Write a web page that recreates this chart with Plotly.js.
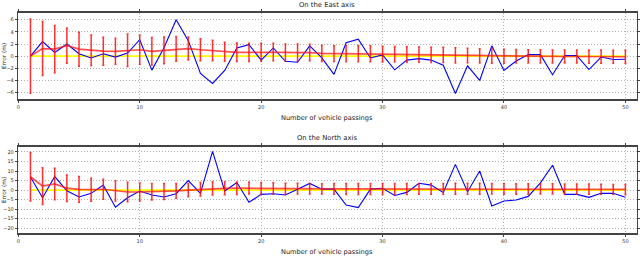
<!DOCTYPE html>
<html>
<head>
<meta charset="utf-8">
<script src="https://cdn.plot.ly/plotly-3.0.1.min.js"></script>
<style>html,body{margin:0;padding:0;background:#fff;}#chart{width:640px;height:256px;}</style>
</head>
<body>
<div id="chart"></div>
<script>
// ---- data ----
const passings = [1,2,3,4,5,6,7,8,9,10,11,12,13,14,15,16,17,18,19,20,21,22,23,24,25,26,27,28,29,30,31,32,33,34,35,36,37,38,39,40,41,42,43,44,45,46,47,48,49,50];
const xTickVals = [0,10,20,30,40,50];
const eastTickVals = [-6,-4,-2,0,2,4,6];
const northTickVals = [-20,-15,-10,-5,0,5,10,15,20];
const referenceError = 0;

const eastError = [0,2.4,0.6,2.0,0.4,-0.3,0.4,-0.15,0.5,2.7,
  -2.3,1.4,6.0,2.55,-2.85,-4.5,-2.35,1.35,1.9,-0.65,
  1.35,-0.85,-1.0,1.7,-0.3,-3.0,2.2,2.8,-0.3,0.2,
  -2.25,-0.65,-0.4,-0.65,-1.5,-6.15,-1.6,-4.0,1.7,-2.35,
  -0.8,0.25,0.25,-3.05,0.1,0.1,-2.2,-0.15,-0.55,-0.5];
const eastMean = [0,1.25,1.15,1.75,1.15,0.96,0.82,0.8,0.98,1.05,
  0.8,0.95,1.2,1.25,1.05,0.93,0.72,0.63,0.63,0.65,
  0.68,0.62,0.58,0.6,0.45,0.42,0.42,0.42,0.38,0.33,
  0.3,0.27,0.25,0.22,0.2,0.12,0.1,0.05,0.05,0.0,
  -0.02,-0.03,-0.03,-0.06,-0.06,-0.06,-0.08,-0.08,-0.1,-0.1];
const eastStd = [6.1,4.45,3.9,2.9,2.8,2.5,2.3,2.15,2.68,2.4,
  2.25,2.2,2.05,1.9,1.8,1.7,1.55,1.52,1.5,1.48,
  1.45,1.4,1.4,1.37,1.35,1.3,1.33,1.33,1.32,1.3,
  1.28,1.27,1.26,1.25,1.25,1.25,1.2,1.17,1.2,1.15,
  1.12,1.1,1.1,1.08,1.08,1.08,1.08,1.08,1.07,1.07];

const northError = [6.9,-4.0,7.1,-0.35,-3.6,-1.7,2.6,-9.0,-4.0,-0.5,
  -2.6,-3.6,-1.9,5.0,-1.7,20.3,-0.5,4.0,-6.4,-2.25,
  -1.9,-2.6,0.5,3.5,0.5,0.5,-7.8,-9.2,0.5,0.9,
  -2.8,-1.2,3.6,2.6,-1.2,13.5,-0.9,10.0,-8.3,-5.7,
  -5.2,-3.3,3.8,13.0,-2.25,-2.25,-3.8,-1.7,-1.7,-3.8];
const northMean = [7.0,2.1,3.2,1.0,0.4,0.2,0.45,-0.4,-1.0,-1.0,
  -0.9,-0.7,-0.4,0.0,0.4,0.9,0.95,1.0,1.0,0.95,
  0.9,0.8,0.75,0.7,0.65,0.65,0.6,0.6,0.6,0.6,
  0.6,0.6,0.65,0.65,0.65,0.7,0.7,0.7,0.7,0.65,
  0.6,0.6,0.6,0.6,0.55,0.5,0.5,0.45,0.4,0.35];
const northStd = [12.7,9.6,8.3,6.95,6.75,6.0,5.3,5.3,5.15,4.75,
  4.3,4.2,3.9,3.5,3.55,3.45,3.4,3.3,3.1,3.05,
  3.0,2.85,2.8,2.75,2.65,2.85,2.9,2.9,2.85,2.85,
  2.85,2.85,2.85,2.85,2.85,2.85,2.85,2.85,2.8,2.8,
  2.75,2.75,2.7,2.7,2.7,2.65,2.65,2.65,2.6,2.6];

// ---- traces ----
function panel(errArr, meanArr, stdArr, xa, ya) {
  return [
    {x: passings, y: passings.map(() => referenceError), xaxis: xa, yaxis: ya, type: 'scatter', mode: 'lines',
     line: {color: '#ffff00', width: 1.6}, hoverinfo: 'skip'},
    {x: passings, y: errArr, xaxis: xa, yaxis: ya, type: 'scatter', mode: 'lines',
     line: {color: '#0000ff', width: 1.1}},
    {x: passings, y: meanArr, xaxis: xa, yaxis: ya, type: 'scatter', mode: 'lines',
     line: {color: 'rgba(255,20,20,0.75)', width: 1.7},
     error_y: {type: 'data', array: stdArr, visible: true, color: 'rgba(255,10,10,0.85)', thickness: 1.5, width: 1}}
  ];
}
const data = [].concat(
  panel(eastError, eastMean, eastStd, 'x', 'y'),
  panel(northError, northMean, northStd, 'x2', 'y2')
);

const font = {family: 'DejaVu Sans, sans-serif', color: '#222'};
function xAxis(anchor) {
  return {anchor: anchor, domain: [0.0286, 0.9948], range: [0, 50.93], tickvals: xTickVals,
    showline: true, mirror: 'ticks', linewidth: 2, linecolor: '#444',
    ticks: 'outside', ticklen: 2, tickcolor: '#444', tickwidth: 1,
    showgrid: true, gridcolor: '#b0b0b0', griddash: '1px,2px', gridwidth: 1, zeroline: false,
    tickfont: {family: font.family, size: 5, color: '#333'}};
}
function yAxis(anchor, domain, range, ticks) {
  return {anchor: anchor, domain: domain, range: range, tickvals: ticks,
    showline: true, mirror: 'ticks', linewidth: 1.5, linecolor: '#444',
    ticks: 'outside', ticklen: 2, tickcolor: '#444', tickwidth: 1,
    showgrid: true, gridcolor: '#b0b0b0', griddash: '1px,2px', gridwidth: 1, zeroline: false,
    tickfont: {family: font.family, size: 5, color: '#333'}};
}
function ann(text, x, y, size, angle) {
  return {text: text, xref: 'paper', yref: 'paper', x: x, y: y, xanchor: 'center', yanchor: 'middle',
    showarrow: false, textangle: angle || 0, font: {family: font.family, size: size, color: '#222'}};
}

const layout = {
  width: 640, height: 256,
  margin: {l: 0, r: 0, t: 0, b: 0, pad: 0},
  paper_bgcolor: '#ffffff', plot_bgcolor: '#ffffff',
  showlegend: false,
  xaxis: xAxis('y'),
  yaxis: yAxis('x', [0.6145, 0.948], [-7.0, 7.05], eastTickVals),
  xaxis2: xAxis('y2'),
  yaxis2: yAxis('x2', [0.0898, 0.4258], [-22.5, 22.6], northTickVals),
  annotations: [
    ann('On the East axis', 0.5117, 1 - 4.8/256, 6.8),
    ann('Number of vehicle passings', 0.5117, 1 - 118/256, 6.6),
    ann('Error (m)', 4.0/640, 1 - 56/256, 5.8, -90),
    ann('On the North axis', 0.5117, 1 - 138.3/256, 6.8),
    ann('Number of vehicle passings', 0.5117, 1 - 252/256, 6.6),
    ann('Error (m)', 4.0/640, 1 - 190/256, 5.8, -90)
  ]
};

Plotly.newPlot('chart', data, layout, {staticPlot: true, displayModeBar: false});
</script>
</body>
</html>
